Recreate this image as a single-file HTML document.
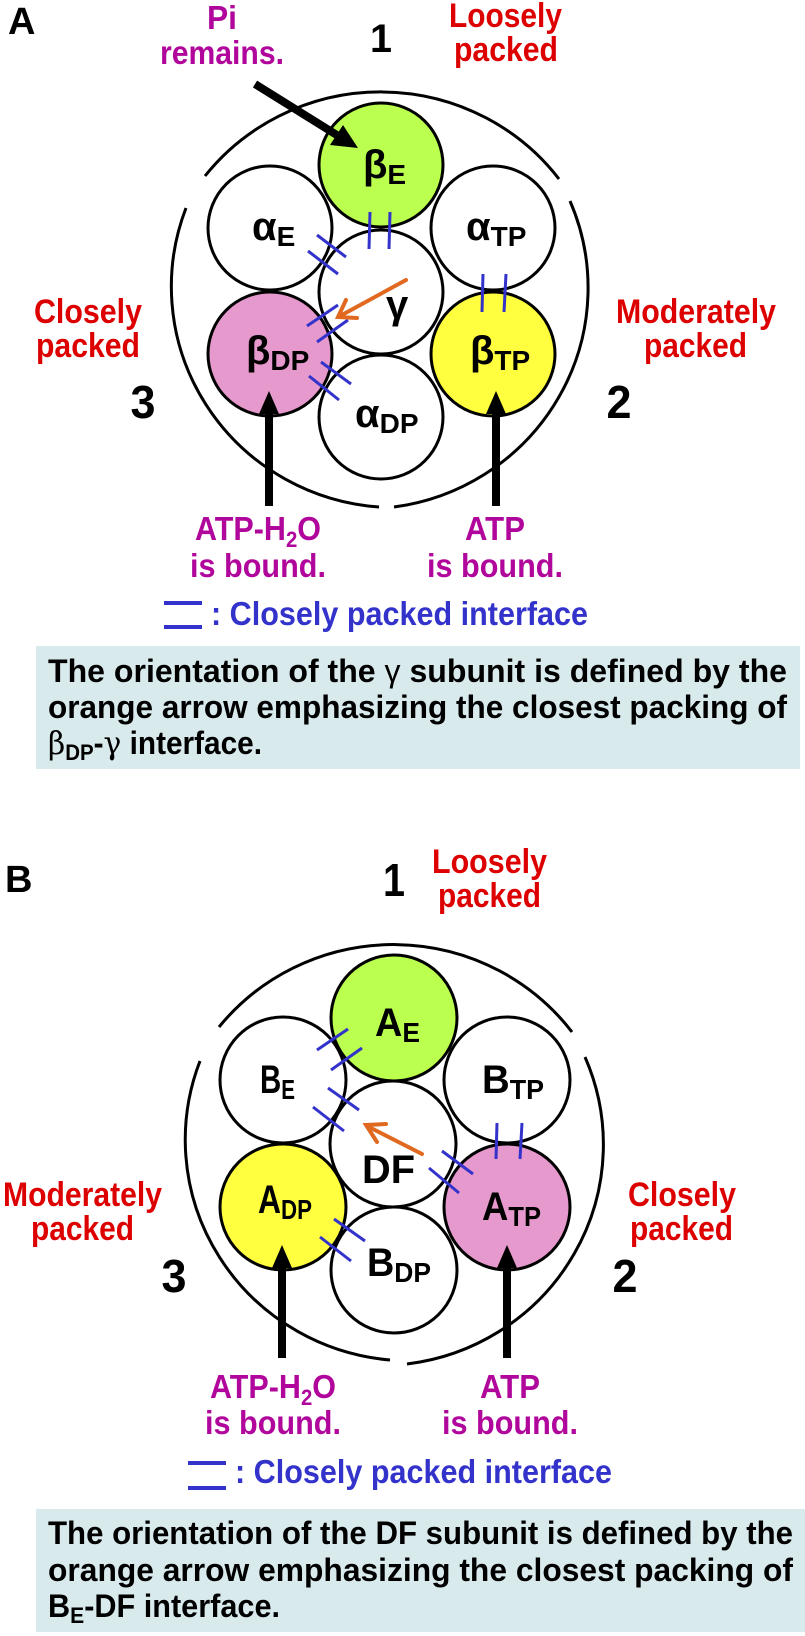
<!DOCTYPE html>
<html><head><meta charset="utf-8"><style>
html,body{margin:0;padding:0;background:#fff;}
svg{display:block;}
text{font-family:"Liberation Sans",Arial,sans-serif;font-weight:bold;}
.red{fill:#dd0000;font-size:34px;}
.mag{fill:#b0069b;font-size:33px;}
.num{fill:#000;}
.lbl{font-size:40px;fill:#000;}
.sub{font-size:28px;}
.box{font-size:32px;fill:#000;}
.leg{fill:#3333cc;font-size:33px;}
</style></head><body>
<svg width="805" height="1636" viewBox="0 0 805 1636" xmlns="http://www.w3.org/2000/svg">

<!-- ============ PANEL A ============ -->
<text x="8" y="34" font-size="38" class="num">A</text>
<text x="381" y="52" font-size="40" text-anchor="middle" class="num" textLength="22" lengthAdjust="spacingAndGlyphs">1</text>
<text x="143" y="418" font-size="46" text-anchor="middle" class="num" textLength="25" lengthAdjust="spacingAndGlyphs">3</text>
<text x="619" y="418" font-size="46" text-anchor="middle" class="num" textLength="25" lengthAdjust="spacingAndGlyphs">2</text>

<text x="222" y="29" class="mag" text-anchor="middle" textLength="30" lengthAdjust="spacingAndGlyphs">Pi</text>
<text x="160" y="64" class="mag" textLength="124" lengthAdjust="spacingAndGlyphs">remains.</text>
<text x="449" y="27" class="red" textLength="113" lengthAdjust="spacingAndGlyphs">Loosely</text>
<text x="454" y="61" class="red" textLength="104" lengthAdjust="spacingAndGlyphs">packed</text>
<text x="34" y="323" class="red" textLength="108" lengthAdjust="spacingAndGlyphs">Closely</text>
<text x="36" y="357" class="red" textLength="104" lengthAdjust="spacingAndGlyphs">packed</text>
<text x="616" y="323" class="red" textLength="160" lengthAdjust="spacingAndGlyphs">Moderately</text>
<text x="644" y="357" class="red" textLength="103" lengthAdjust="spacingAndGlyphs">packed</text>

<g fill="none" stroke="#000" stroke-width="3">
<path d="M205,176 A224,221 0 0 1 559,179"/>
<path d="M186,208 A224,221 0 0 0 379,507"/>
<path d="M570,201 A224,221 0 0 1 394,507"/>
</g>

<g stroke="#000" stroke-width="3">
<circle cx="381" cy="165" r="62" fill="#bbff4f"/>
<circle cx="270" cy="228" r="62" fill="#fff"/>
<circle cx="493" cy="228" r="62" fill="#fff"/>
<circle cx="381" cy="292" r="62" fill="#fff"/>
<circle cx="270" cy="354" r="62" fill="#e699cc"/>
<circle cx="493" cy="354" r="62" fill="#ffff40"/>
<circle cx="381" cy="417" r="62" fill="#fff"/>
</g>

<text x="363" y="178" class="lbl" font-weight="normal" font-family="DejaVu Serif">β<tspan class="sub" font-family="Liberation Sans" font-weight="bold" dy="6">E</tspan></text>
<text x="252" y="240" class="lbl" font-weight="normal" font-family="DejaVu Serif">α<tspan class="sub" font-family="Liberation Sans" font-weight="bold" dy="6">E</tspan></text>
<text x="466" y="240" class="lbl" font-weight="normal" font-family="DejaVu Serif">α<tspan class="sub" font-family="Liberation Sans" font-weight="bold" dy="6">TP</tspan></text>
<text x="386" y="318" class="lbl" font-weight="normal" font-size="32" font-family="DejaVu Serif">γ</text>
<text x="246" y="364" class="lbl" font-weight="normal" font-family="DejaVu Serif">β<tspan class="sub" font-family="Liberation Sans" font-weight="bold" dy="6">DP</tspan></text>
<text x="470" y="364" class="lbl" font-weight="normal" font-family="DejaVu Serif">β<tspan class="sub" font-family="Liberation Sans" font-weight="bold" dy="6">TP</tspan></text>
<text x="355" y="427" class="lbl" font-weight="normal" font-family="DejaVu Serif">α<tspan class="sub" font-family="Liberation Sans" font-weight="bold" dy="6">DP</tspan></text>

<g stroke="#3333cc" stroke-width="3">
<line x1="370" y1="212" x2="369" y2="249"/><line x1="390" y1="212" x2="389" y2="249"/>
<line x1="483" y1="274" x2="482" y2="312"/><line x1="506" y1="274" x2="504" y2="312"/>
<line x1="317" y1="235" x2="346" y2="257"/><line x1="308" y1="251" x2="338" y2="274"/>
<line x1="338" y1="305" x2="307" y2="326"/><line x1="348" y1="320" x2="317" y2="342"/>
<line x1="321" y1="362" x2="351" y2="384"/><line x1="309" y1="376" x2="339" y2="400"/>
</g>

<g stroke="#e0691f" stroke-width="4" fill="none" stroke-linecap="round">
<line x1="406" y1="280" x2="340" y2="316"/>
<polyline points="346,300 338,317 357,318"/>
</g>

<line x1="255" y1="84" x2="340" y2="137" stroke="#000" stroke-width="8"/>
<polygon points="358,148 330,145 343,125" fill="#000"/>
<line x1="269" y1="506" x2="269" y2="410" stroke="#000" stroke-width="8"/>
<polygon points="269,391 259,414 279,414" fill="#000"/>
<line x1="496" y1="506" x2="496" y2="410" stroke="#000" stroke-width="8"/>
<polygon points="496,391 486,414 506,414" fill="#000"/>

<text x="195" y="540" class="mag" textLength="126" lengthAdjust="spacingAndGlyphs">ATP-H<tspan font-size="22" dy="7">2</tspan><tspan dy="-7">O</tspan></text>
<text x="258" y="577" class="mag" text-anchor="middle" textLength="136" lengthAdjust="spacingAndGlyphs">is bound.</text>
<text x="495" y="540" class="mag" text-anchor="middle" textLength="60" lengthAdjust="spacingAndGlyphs">ATP</text>
<text x="495" y="577" class="mag" text-anchor="middle" textLength="136" lengthAdjust="spacingAndGlyphs">is bound.</text>

<g stroke="#3333cc" stroke-width="4"><line x1="164" y1="603" x2="202" y2="603"/><line x1="164" y1="627" x2="202" y2="627"/></g>
<text x="211" y="625" class="leg" textLength="377" lengthAdjust="spacingAndGlyphs">: Closely packed interface</text>

<rect x="36" y="646" width="764" height="123" fill="#d9eaed"/>
<text x="48" y="682" class="box" textLength="739" lengthAdjust="spacingAndGlyphs">The orientation of the <tspan font-weight="normal">γ</tspan> subunit is defined by the</text>
<text x="48" y="718" class="box" textLength="739" lengthAdjust="spacingAndGlyphs">orange arrow emphasizing the closest packing of</text>
<text x="48" y="754" class="box" textLength="214" lengthAdjust="spacingAndGlyphs"><tspan font-weight="normal" font-family="DejaVu Serif">β</tspan><tspan font-size="22" dy="6">DP</tspan><tspan dy="-6">-</tspan><tspan font-weight="normal" font-family="DejaVu Serif">γ</tspan> interface.</text>

<!-- ============ PANEL B ============ -->
<text x="5" y="892" font-size="38" class="num">B</text>
<text x="394" y="896" font-size="46" text-anchor="middle" class="num" textLength="22" lengthAdjust="spacingAndGlyphs">1</text>
<text x="174" y="1292" font-size="46" text-anchor="middle" class="num" textLength="25" lengthAdjust="spacingAndGlyphs">3</text>
<text x="625" y="1292" font-size="46" text-anchor="middle" class="num" textLength="25" lengthAdjust="spacingAndGlyphs">2</text>

<text x="432" y="873" class="red" textLength="115" lengthAdjust="spacingAndGlyphs">Loosely</text>
<text x="438" y="907" class="red" textLength="103" lengthAdjust="spacingAndGlyphs">packed</text>
<text x="3" y="1206" class="red" textLength="159" lengthAdjust="spacingAndGlyphs">Moderately</text>
<text x="31" y="1240" class="red" textLength="103" lengthAdjust="spacingAndGlyphs">packed</text>
<text x="628" y="1206" class="red" textLength="108" lengthAdjust="spacingAndGlyphs">Closely</text>
<text x="630" y="1240" class="red" textLength="103" lengthAdjust="spacingAndGlyphs">packed</text>

<g fill="none" stroke="#000" stroke-width="3">
<path d="M219,1027 A224,221 0 0 1 572,1032"/>
<path d="M200,1061 A224,221 0 0 0 390,1360"/>
<path d="M585,1057 A224,221 0 0 1 407,1364"/>
</g>

<g stroke="#000" stroke-width="3">
<circle cx="394" cy="1018" r="63" fill="#bbff4f"/>
<circle cx="283" cy="1080" r="63" fill="#fff"/>
<circle cx="507" cy="1080" r="63" fill="#fff"/>
<circle cx="393" cy="1144" r="63" fill="#fff"/>
<circle cx="283" cy="1207" r="63" fill="#ffff40"/>
<circle cx="507" cy="1207" r="63" fill="#e699cc"/>
<circle cx="394" cy="1270" r="63" fill="#fff"/>
</g>

<text x="375" y="1036" class="lbl" font-size="46" textLength="45" lengthAdjust="spacingAndGlyphs">A<tspan class="sub" font-size="32" dy="6">E</tspan></text>
<text x="260" y="1093" class="lbl" textLength="35" lengthAdjust="spacingAndGlyphs">B<tspan class="sub" dy="6">E</tspan></text>
<text x="482" y="1093" class="lbl" font-size="46" textLength="62" lengthAdjust="spacingAndGlyphs">B<tspan class="sub" font-size="32" dy="6">TP</tspan></text>
<text x="362" y="1183" class="lbl" font-size="48" textLength="53" lengthAdjust="spacingAndGlyphs">DF</text>
<text x="258" y="1213" class="lbl" textLength="54" lengthAdjust="spacingAndGlyphs">A<tspan class="sub" dy="6">DP</tspan></text>
<text x="482" y="1220" class="lbl" font-size="46" textLength="59" lengthAdjust="spacingAndGlyphs">A<tspan class="sub" font-size="32" dy="6">TP</tspan></text>
<text x="367" y="1276" class="lbl" font-size="46" textLength="64" lengthAdjust="spacingAndGlyphs">B<tspan class="sub" font-size="32" dy="6">DP</tspan></text>

<g stroke="#3333cc" stroke-width="3">
<line x1="317" y1="1050" x2="348" y2="1029"/><line x1="331" y1="1070" x2="362" y2="1048"/>
<line x1="328" y1="1088" x2="359" y2="1110"/><line x1="313" y1="1107" x2="344" y2="1131"/>
<line x1="497" y1="1123" x2="496" y2="1159"/><line x1="522" y1="1123" x2="520" y2="1159"/>
<line x1="442" y1="1151" x2="473" y2="1174"/><line x1="429" y1="1168" x2="459" y2="1193"/>
<line x1="334" y1="1219" x2="365" y2="1241"/><line x1="320" y1="1237" x2="351" y2="1261"/>
</g>

<g stroke="#e0691f" stroke-width="4" fill="none" stroke-linecap="round">
<line x1="422" y1="1154" x2="367" y2="1126"/>
<polyline points="386,1124 366,1125 377,1142"/>
</g>

<line x1="282" y1="1358" x2="282" y2="1264" stroke="#000" stroke-width="8"/>
<polygon points="282,1245 272,1268 292,1268" fill="#000"/>
<line x1="507" y1="1358" x2="507" y2="1264" stroke="#000" stroke-width="8"/>
<polygon points="507,1245 497,1268 517,1268" fill="#000"/>

<text x="210" y="1398" class="mag" textLength="126" lengthAdjust="spacingAndGlyphs">ATP-H<tspan font-size="22" dy="7">2</tspan><tspan dy="-7">O</tspan></text>
<text x="273" y="1434" class="mag" text-anchor="middle" textLength="136" lengthAdjust="spacingAndGlyphs">is bound.</text>
<text x="510" y="1398" class="mag" text-anchor="middle" textLength="60" lengthAdjust="spacingAndGlyphs">ATP</text>
<text x="510" y="1434" class="mag" text-anchor="middle" textLength="136" lengthAdjust="spacingAndGlyphs">is bound.</text>

<g stroke="#3333cc" stroke-width="4"><line x1="188" y1="1463" x2="226" y2="1463"/><line x1="188" y1="1488" x2="226" y2="1488"/></g>
<text x="235" y="1483" class="leg" textLength="377" lengthAdjust="spacingAndGlyphs">: Closely packed interface</text>

<rect x="36" y="1509" width="769" height="123" fill="#d9eaed"/>
<text x="48" y="1544" class="box" textLength="745" lengthAdjust="spacingAndGlyphs">The orientation of the DF subunit is defined by the</text>
<text x="48" y="1581" class="box" textLength="745" lengthAdjust="spacingAndGlyphs">orange arrow emphasizing the closest packing of</text>
<text x="48" y="1617" class="box" textLength="232" lengthAdjust="spacingAndGlyphs">B<tspan font-size="22" dy="6">E</tspan><tspan dy="-6">-DF interface.</tspan></text>
</svg>
</body></html>
